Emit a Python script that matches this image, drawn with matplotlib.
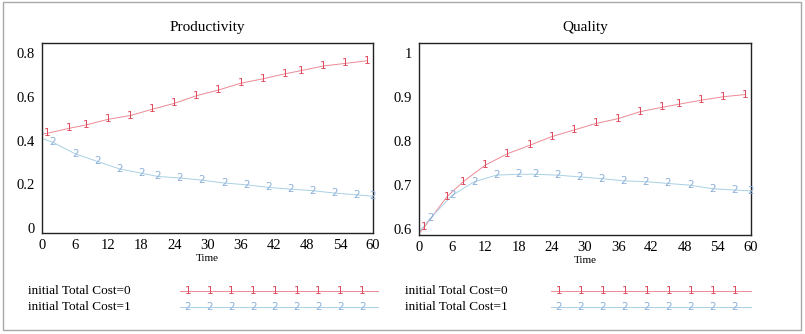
import matplotlib
matplotlib.use("Agg")
import matplotlib.pyplot as plt
from matplotlib.patches import Rectangle

# ---------------- data ----------------
time_ticks = [0, 6, 12, 18, 24, 30, 36, 42, 48, 54, 60]

prod_t0 = [0, 1, 5, 8, 12, 16, 20, 24, 28, 32, 36, 40, 44, 47, 51, 55, 59]
prod_v0 = [0.43, 0.434, 0.457, 0.472, 0.498, 0.515, 0.544, 0.571, 0.606, 0.632,
           0.663, 0.683, 0.706, 0.721, 0.742, 0.754, 0.766]
prod_t1 = [0, 2, 6, 10, 14, 18, 21, 25, 29, 33, 37, 41, 45, 49, 53, 57, 60]
prod_v1 = [0.41, 0.392, 0.34, 0.305, 0.271, 0.251, 0.236, 0.229, 0.219, 0.206,
           0.198, 0.186, 0.178, 0.171, 0.160, 0.152, 0.145]

qual_t0 = [0, 1, 5, 8, 12, 16, 20, 24, 28, 32, 36, 40, 44, 47, 51, 55, 59]
qual_v0 = [0.589, 0.604, 0.672, 0.707, 0.745, 0.771, 0.790, 0.810, 0.825, 0.840,
           0.851, 0.867, 0.877, 0.884, 0.893, 0.901, 0.906]
qual_t1 = [0, 2, 6, 10, 14, 18, 21, 25, 29, 33, 37, 41, 45, 49, 53, 57, 60]
qual_v1 = [0.592, 0.623, 0.676, 0.707, 0.722, 0.724, 0.724, 0.722, 0.718, 0.714,
           0.709, 0.707, 0.703, 0.699, 0.691, 0.688, 0.686]

prod_yticks = [0, 0.2, 0.4, 0.6, 0.8]
prod_ylabels = ["0", "0.2", "0.4", "0.6", "0.8"]
qual_yticks = [0.6, 0.7, 0.8, 0.9, 1.0]
qual_ylabels = ["0.6", "0.7", "0.8", "0.9", "1"]

series_labels = ["initial Total Cost=0", "initial Total Cost=1"]
series_marks = ["1", "2"]
titles = ["Productivity", "Quality"]

# ---------------- style ----------------
RED_LINE = "#ec8a94"
RED_MARK = "#e0485c"
BLUE_LINE = "#a8d0e4"
BLUE_MARK = "#8aaed8"
SERIF = ["Liberation Serif", "DejaVu Serif"]

plt.rcParams["font.family"] = SERIF

fig = plt.figure(figsize=(8.05, 3.34), dpi=100)
fig.patch.set_facecolor("white")
fig.patches.append(Rectangle((0.004, 0.012), 0.991, 0.982, transform=fig.transFigure,
                             fill=False, edgecolor="#a8a8a8", linewidth=1.0))

ax_l = fig.add_axes([0.0522, 0.3024, 0.4112, 0.5680])
ax_r = fig.add_axes([0.5205, 0.2960, 0.4124, 0.5744])


def draw_series(ax, t, v, lc, mc, mark):
    ax.plot(t, v, color=lc, linewidth=0.7, zorder=2)
    for ti, vi in zip(t[1:], v[1:]):
        ax.text(ti, vi, mark, color=mc, fontsize=7.5, family="DejaVu Sans",
                ha="center", va="center", zorder=3)


def style(ax, title, ylim, yt, yl):
    ax.set_xlim(0, 60)
    ax.set_ylim(*ylim)
    ax.set_xticks(time_ticks)
    ax.set_xticklabels([str(x) for x in time_ticks])
    ax.set_yticks(yt)
    ax.set_yticklabels(yl)
    ax.tick_params(length=0, labelsize=10.5, pad=5)
    ax.tick_params(axis="x", pad=4)
    for s in ax.spines.values():
        s.set_color("#222222")
        s.set_linewidth(1.0)
    ax.set_title(title, fontsize=11, pad=9)
    ax.set_xlabel("Time", fontsize=8, labelpad=2)


draw_series(ax_l, prod_t0, prod_v0, RED_LINE, RED_MARK, series_marks[0])
draw_series(ax_l, prod_t1, prod_v1, BLUE_LINE, BLUE_MARK, series_marks[1])
style(ax_l, titles[0], (-0.023, 0.846), prod_yticks, prod_ylabels)

draw_series(ax_r, qual_t0, qual_v0, RED_LINE, RED_MARK, series_marks[0])
draw_series(ax_r, qual_t1, qual_v1, BLUE_LINE, BLUE_MARK, series_marks[1])
style(ax_r, titles[1], (0.585, 1.023), qual_yticks, qual_ylabels)

# ---------------- legends ----------------
def legend_block(x_text, x0, x1):
    rows_y = [1 - 291 / 334, 1 - 307 / 334]
    lcols = [RED_LINE, BLUE_LINE]
    mcols = [RED_MARK, BLUE_MARK]
    for i in range(2):
        y = rows_y[i]
        fig.text(x_text, y, series_labels[i], fontsize=9.5, ha="left", va="center")
        fig.add_artist(plt.Line2D([x0, x1], [y, y], transform=fig.transFigure,
                                  color=lcols[i], linewidth=0.7))
        n = 9
        for k in range(n):
            xm = x0 + (x1 - x0) * (0.04 + 0.88 * k / (n - 1))
            fig.text(xm, y, series_marks[i], fontsize=7.5, family="DejaVu Sans",
                     color=mcols[i], ha="center", va="center")


legend_block(28 / 805, 180 / 805, 378 / 805)
legend_block(405 / 805, 551 / 805, 751 / 805)

fig.savefig("out.png", dpi=100, facecolor="white")
